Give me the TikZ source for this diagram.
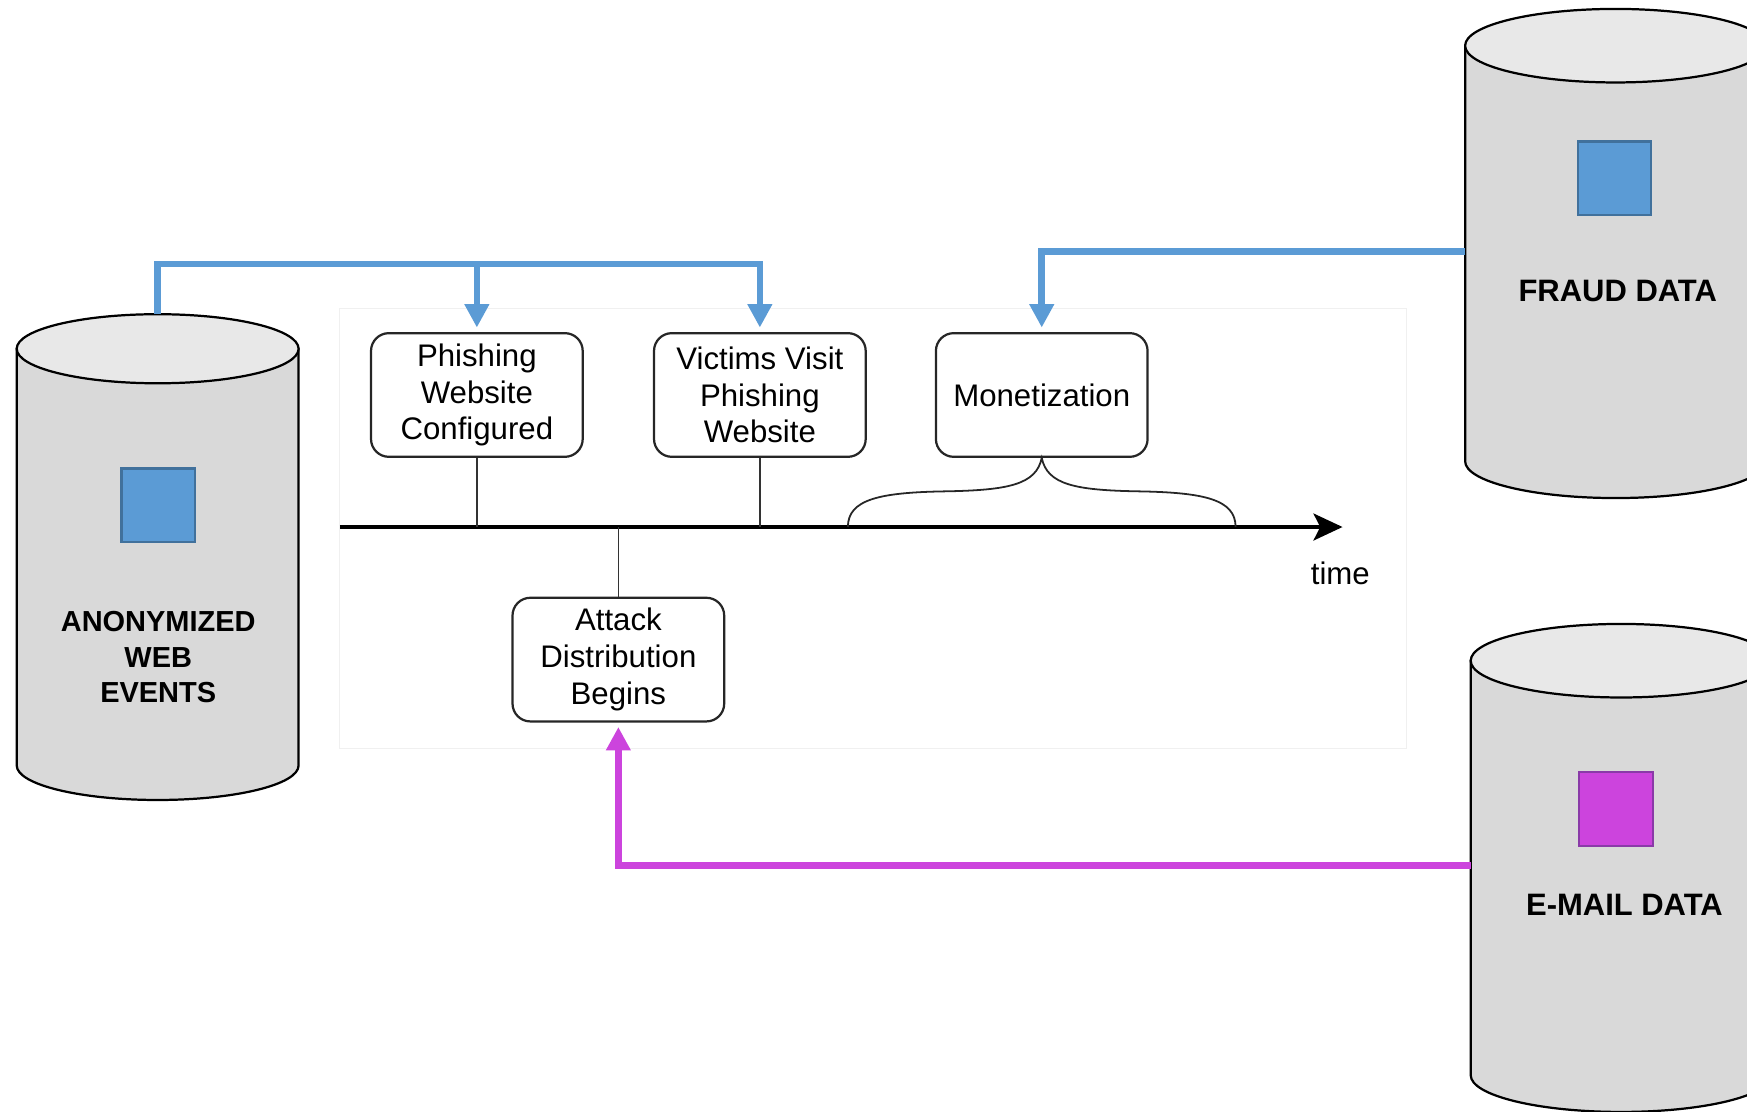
\documentclass[tikz,border=0pt]{standalone}
\usepackage{fontspec}
\setmainfont{Liberation Sans}
\usetikzlibrary{arrows.meta,calc}
\definecolor{feedblue}{HTML}{5B9BD5}
\definecolor{feedblueedge}{HTML}{41719C}
\definecolor{feedmag}{HTML}{CC44DD}
\definecolor{feedmagedge}{HTML}{8A3AA8}
\definecolor{drumside}{HTML}{D9D9D9}
\definecolor{drumlid}{HTML}{E8E8E8}

\begin{document}
\begin{tikzpicture}[x=0.5pt,y=-0.5pt,
  stage/.style={draw=black!85, line width=1pt, rounded corners=8pt, fill=white,
    minimum width=95pt, minimum height=55.5pt, inner sep=2pt, align=center,
    font=\fontsize{14}{16.5}\selectfont},
  drum/.style={draw=black, line width=1pt, fill=drumside},
  lid/.style={draw=black, line width=1pt, fill=drumlid},
  drumlabel/.style={align=center, font=\bfseries\fontsize{13.9}{16}\selectfont},
  marker/.style={minimum width=33pt, minimum height=33pt, inner sep=0pt, line width=1pt},
  feed/.style={line width=3pt, -{Triangle[length=10.5pt,width=10.5pt]}, shorten >=2pt},
  tick/.style={draw=black!80, line width=0.7pt},
  brace/.style={draw=black!85, line width=0.8pt},
  frame/.style={inner sep=0pt, outer sep=0pt, minimum width=126.5pt}
]
\useasboundingbox (0,0) rectangle (1568,998);
\clip (0,0) rectangle (1568,998);

% faint panel behind the timeline
\draw[black!6, line width=0.5pt] (305,277) rectangle (1262,672);

% timeline
\coordinate (t0) at (305,473);
\coordinate (t1) at (1205,473);
\draw[line width=2pt, -{Stealth[length=13pt,width=12pt,inset=3pt]}] (t0) -- (t1);
\node[font=\fontsize{14}{16.5}\selectfont] (timelabel) at (1203,515) {time};

% stages
\node[stage] (phish) at (428,354.5) {Phishing\\Website\\Configured};
\node[stage] (visit) at (682,354.5) {Victims Visit\\Phishing\\Website};
\node[stage] (monet) at (935,354.5) {Monetization};
\node[stage] (attack) at (555,592) {Attack\\Distribution\\Begins};

\draw[tick] (phish.south) -- (phish.south |- t0);
\draw[tick] (visit.south) -- (visit.south |- t0);
\draw[tick] (attack.north) -- (attack.north |- t0);

% brace spanning the monetization period
\coordinate (bl) at (761,473);
\coordinate (br) at (1109,473);
\draw[brace] (bl) .. controls (761,448) and (790,442) .. (848,441)
  .. controls (905,440) and (930,435) .. (monet.south)
  .. controls (940,435) and (965,440) .. (1022,441)
  .. controls (1080,442) and (1109,448) .. (br);

% data stores
\path[drum] (15,313) -- (15,687) arc[start angle=180, end angle=360, x radius=63.25pt, y radius=15.5pt] -- (268,313) -- cycle;
\path[lid] (141.5,313) ellipse [x radius=63.25pt, y radius=15.5pt];
\node[frame, minimum height=218pt] (anon) at (141.5,500) {};
\node[marker, fill=feedblue, draw=feedblueedge] (anonmark) at (142,453.5) {};
\node[drumlabel, font=\bfseries\fontsize{13}{16}\selectfont] (anonlabel) at (142,590) {ANONYMIZED\\WEB\\EVENTS};

\path[drum] (1315,41) -- (1315,414) arc[start angle=180, end angle=360, x radius=67.5pt, y radius=16.5pt] -- (1585,41) -- cycle;
\path[lid] (1450,41) ellipse [x radius=67.5pt, y radius=16.5pt];
\node[frame, minimum width=135pt, minimum height=219pt] (fraud) at (1450,226) {};
\node[marker, fill=feedblue, draw=feedblueedge] (fraudmark) at (1449,160) {};
\node[drumlabel] (fraudlabel) at (1452,261) {FRAUD DATA};

\path[drum] (1320,593) -- (1320,965) arc[start angle=180, end angle=360, x radius=67.5pt, y radius=16.5pt] -- (1590,593) -- cycle;
\path[lid] (1455,593) ellipse [x radius=67.5pt, y radius=16.5pt];
\node[frame, minimum width=135pt, minimum height=219pt] (email) at (1455,777) {};
\node[marker, fill=feedmag, draw=feedmagedge] (emailmark) at (1450.5,726) {};
\node[drumlabel] (emaillabel) at (1458,812) {E-MAIL DATA};

% feeds from the data stores into the stages
\coordinate (split) at ($(anon.north)+(0,-45)$);
\draw[feed, feedblue] (anon.north) -- (split) -| (visit.north);
\draw[feed, feedblue] (split) -| (phish.north);
\draw[feed, feedblue] (fraud.west) -| (monet.north);
\draw[feed, feedmag] (email.west) -| (attack.south);
\end{tikzpicture}
\end{document}
